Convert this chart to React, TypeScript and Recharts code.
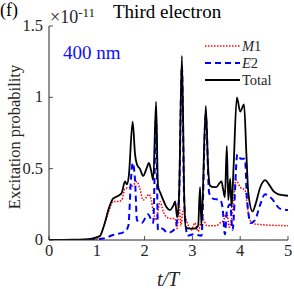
import React from "react";
import { LineChart, Line, XAxis, YAxis } from "recharts";

const totalT = [0, 0.5, 0.9, 1.0, 1.07, 1.15, 1.25, 1.34, 1.45, 1.52, 1.59, 1.63, 1.67, 1.75, 1.8, 1.84, 1.9, 1.97, 2.04, 2.09, 2.14, 2.18, 2.24, 2.28, 2.33, 2.39, 2.46, 2.53, 2.6, 2.64, 2.68, 2.72, 2.78, 2.83, 2.86, 2.95, 3.05, 3.12, 3.16, 3.19, 3.28, 3.33, 3.37, 3.45, 3.5, 3.57, 3.61, 3.64, 3.68, 3.72, 3.75, 3.79, 3.82, 3.86, 3.93, 4.0, 4.08, 4.13, 4.17, 4.26, 4.32, 4.42, 4.52, 4.6, 4.7, 4.8, 5.0];
const totalV = [0, 0.002, 0.01, 0.02, 0.03, 0.1, 0.22, 0.29, 0.31, 0.33, 0.41, 0.39, 0.45, 0.83, 0.6, 0.53, 0.5, 0.45, 0.5, 0.54, 0.48, 0.42, 0.97, 0.38, 0.33, 0.28, 0.23, 0.21, 0.24, 0.27, 0.16, 0.3, 1.29, 0.3, 0.09, 0.08, 0.08, 0.1, 0.37, 0.1, 0.94, 0.5, 0.38, 0.37, 0.37, 0.4, 0.41, 0.36, 0.3, 0.66, 0.28, 0.43, 0.23, 0.5, 1.0, 0.9, 0.95, 0.6, 0.33, 0.2, 0.25, 0.37, 0.42, 0.39, 0.34, 0.32, 0.31];

const m1T = [0, 0.9, 1.0, 1.07, 1.15, 1.25, 1.34, 1.45, 1.52, 1.59, 1.69, 1.75, 1.84, 1.9, 1.97, 2.04, 2.09, 2.14, 2.18, 2.24, 2.28, 2.32, 2.39, 2.46, 2.55, 2.64, 2.68, 2.72, 2.76, 2.8, 2.88, 2.98, 3.05, 3.12, 3.18, 3.23, 3.3, 3.4, 3.5, 3.58, 3.65, 3.72, 3.77, 3.82, 3.86, 3.91, 4.0, 4.1, 4.17, 4.24, 4.35, 5.0];
const m1V = [0, 0.003, 0.01, 0.03, 0.1, 0.2, 0.27, 0.27, 0.28, 0.36, 0.37, 0.38, 0.41, 0.36, 0.28, 0.3, 0.32, 0.28, 0.2, 0.14, 0.2, 0.27, 0.2, 0.16, 0.15, 0.15, 0.08, 0.26, 0.1, 0.2, 0.13, 0.07, 0.12, 0.06, 0.12, 0.14, 0.1, 0.1, 0.1, 0.12, 0.14, 0.19, 0.09, 0.15, 0.27, 0.42, 0.37, 0.35, 0.19, 0.12, 0.11, 0.1];

const e2T = [0, 0.9, 1.0, 1.13, 1.34, 1.59, 1.66, 1.72, 1.75, 1.8, 1.84, 1.94, 2.07, 2.18, 2.24, 2.28, 2.36, 2.49, 2.64, 2.72, 2.78, 2.83, 2.9, 3.02, 3.19, 3.28, 3.35, 3.43, 3.58, 3.63, 3.68, 3.72, 3.79, 3.84, 3.94, 4.01, 4.1, 4.14, 4.22, 4.31, 4.42, 4.52, 4.66, 4.83, 5.0];
const e2V = [0, 0, 0.003, 0.01, 0.035, 0.06, 0.1, 0.45, 0.54, 0.42, 0.14, 0.12, 0.18, 0.12, 0.85, 0.07, 0.08, 0.05, 0.08, 0.3, 1.22, 0.25, 0.03, 0.04, 0.03, 0.88, 0.33, 0.29, 0.28, 0.23, 0.04, 0.2, 0.25, 0.07, 0.6, 0.57, 0.57, 0.3, 0.12, 0.14, 0.25, 0.32, 0.29, 0.22, 0.21];

const xTicks = [0, 1, 2, 3, 4, 5];
const yTicks = [0, 0.5, 1, 1.5];

const toData = (ts: number[], vs: number[]) => ts.map((t, i) => ({ t, v: vs[i] }));
const totalData = toData(totalT, totalV);
const m1Data = toData(m1T, m1V);
const e2Data = toData(e2T, e2V);

const FONT = "'Liberation Serif', 'DejaVu Serif', serif";
const TXT = "#262626";

const BottomTick = (p: any) => (
  <g>
    <line x1={p.x} x2={p.x} y1={p.y - 4} y2={p.y - 8} stroke="#262626" strokeWidth={0.8} />
    <text x={p.x} y={p.y + 12} textAnchor="middle" fontFamily={FONT} fontSize={16.5} fill={TXT}>
      {p.payload.value}
    </text>
  </g>
);
const TopTick = (p: any) => (
  <line x1={p.x} x2={p.x} y1={p.y + 4} y2={p.y + 8} stroke="#262626" strokeWidth={0.8} />
);
const LeftTick = (p: any) => (
  <g>
    <line x1={p.x + 4} x2={p.x + 8} y1={p.y} y2={p.y} stroke="#262626" strokeWidth={0.8} />
    <text x={p.x - 2} y={p.y + 5} textAnchor="end" fontFamily={FONT} fontSize={16.5} fill={TXT}>
      {p.payload.value}
    </text>
  </g>
);
const RightTick = (p: any) => (
  <line x1={p.x - 4} x2={p.x - 8} y1={p.y} y2={p.y} stroke="#262626" strokeWidth={0.8} />
);

export default function App() {
  return (
    <div style={{ position: "absolute", left: 0, top: 0, width: 294, height: 289, background: "#fff", fontFamily: FONT }}>
      <LineChart width={294} height={289} data={totalData} margin={{ top: 26, right: 6, bottom: 19, left: 9 }}>
        <XAxis xAxisId="b" dataKey="t" type="number" domain={[0, 5]} ticks={xTicks} allowDataOverflow
          height={30} tickSize={0} tickMargin={4} tick={<BottomTick />} axisLine={{ stroke: "#262626" }} tickLine={false} />
        <XAxis xAxisId="top" orientation="top" dataKey="t" type="number" domain={[0, 5]} ticks={xTicks} allowDataOverflow
          height={0} tickSize={0} tickMargin={4} tick={<TopTick />} axisLine={{ stroke: "#262626" }} tickLine={false} />
        <YAxis yAxisId="l" type="number" domain={[0, 1.5]} ticks={yTicks} allowDataOverflow
          width={40} tickSize={0} tickMargin={4} tick={<LeftTick />} axisLine={{ stroke: "#262626" }} tickLine={false} />
        <YAxis yAxisId="r" orientation="right" type="number" domain={[0, 1.5]} ticks={yTicks} allowDataOverflow
          width={0} tickSize={0} tickMargin={4} tick={<RightTick />} axisLine={{ stroke: "#262626" }} tickLine={false} />
        <Line xAxisId="b" yAxisId="l" data={m1Data} dataKey="v" type="monotone" stroke="#ff0000" strokeWidth={1.5}
          strokeDasharray="1.5 1.5" dot={false} isAnimationActive={false} />
        <Line xAxisId="b" yAxisId="l" data={e2Data} dataKey="v" type="monotone" stroke="#0000ff" strokeWidth={2}
          strokeDasharray="6 4" dot={false} isAnimationActive={false} />
        <Line xAxisId="b" yAxisId="l" data={totalData} dataKey="v" type="monotone" stroke="#000000" strokeWidth={1.8}
          dot={false} isAnimationActive={false} />
        <Line xAxisId="top" yAxisId="r" data={totalData} dataKey="v" stroke="none" dot={false} isAnimationActive={false} legendType="none" />
      </LineChart>

      {/* y-axis label */}
      <div style={{ position: "absolute", left: 15, top: 137, transform: "translate(-50%, -50%) rotate(-90deg)", whiteSpace: "nowrap", fontSize: 16.5, color: TXT }}>
        Excitation probability
      </div>
      {/* x-axis label */}
      <div style={{ position: "absolute", left: 168, top: 279, transform: "translate(-50%, -50%)", whiteSpace: "nowrap", fontSize: 20, fontStyle: "italic", color: TXT }}>
        t/T
      </div>
      {/* panel label */}
      <div style={{ position: "absolute", left: 0, top: 1, fontSize: 18, color: "#000", lineHeight: "18px" }}>(f)</div>
      {/* exponent */}
      <div style={{ position: "absolute", left: 50, top: 4, fontSize: 18, color: TXT, lineHeight: "18px", whiteSpace: "nowrap" }}>
        ×10<sup style={{ fontSize: 13, verticalAlign: "6px" }}>-11</sup>
      </div>
      {/* title */}
      <div style={{ position: "absolute", left: 113, top: 2, fontSize: 19, color: "#000", lineHeight: "19px", whiteSpace: "nowrap" }}>
        Third electron
      </div>
      {/* wavelength */}
      <div style={{ position: "absolute", left: 63, top: 43, fontSize: 19, color: "#1010ff", lineHeight: "19px", whiteSpace: "nowrap" }}>
        400 nm
      </div>
      {/* legend */}
      <svg style={{ position: "absolute", left: 200, top: 36 }} width={90} height={54}>
        <line x1={5} x2={40} y1={10} y2={10} stroke="#ff0000" strokeWidth={1.5} strokeDasharray="1.5 1.5" />
        <text x={42} y={15} fontFamily={FONT} fontSize={14.5} fill={TXT}><tspan fontStyle="italic">M</tspan>1</text>
        <line x1={5} x2={40} y1={27} y2={27} stroke="#0000ff" strokeWidth={2} strokeDasharray="6 4" />
        <text x={42} y={32} fontFamily={FONT} fontSize={14.5} fill={TXT}><tspan fontStyle="italic">E</tspan>2</text>
        <line x1={5} x2={40} y1={44} y2={44} stroke="#000" strokeWidth={1.8} />
        <text x={42} y={49} fontFamily={FONT} fontSize={14.5} fill={TXT}>Total</text>
      </svg>
    </div>
  );
}
